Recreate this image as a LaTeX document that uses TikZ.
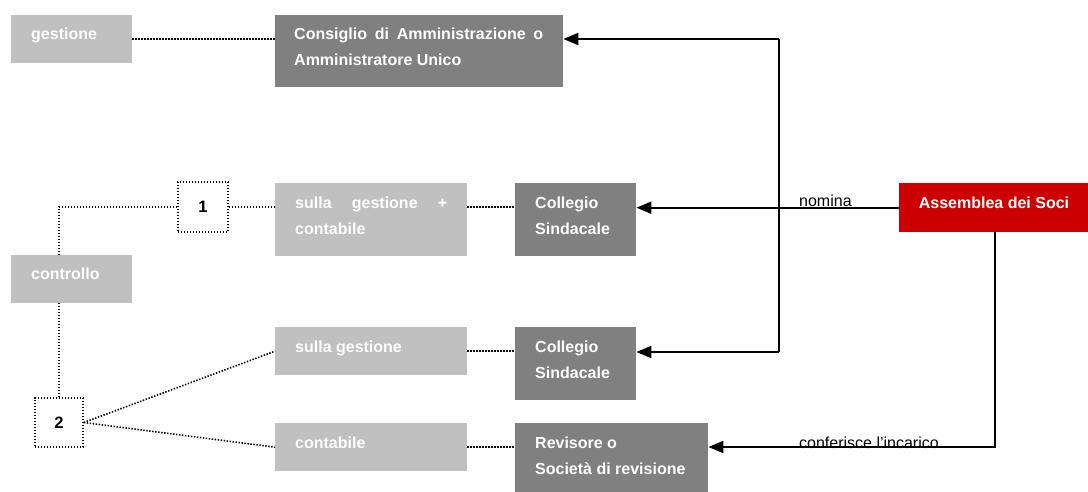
\documentclass[tikz,border=0pt]{standalone}
\usepackage{fontspec}
\setmainfont{Liberation Sans}
\usetikzlibrary{arrows.meta}
\definecolor{lg}{HTML}{C0C0C0}
\definecolor{dg}{HTML}{808080}
\definecolor{rd}{HTML}{CC0000}
\newcommand{\twoline}[2]{\vtop{\baselineskip=26pt\hbox{#1}\hbox{#2}}}
\begin{document}
\begin{tikzpicture}[x=1pt,y=-1pt,
 box/.style={rectangle, inner sep=0pt, anchor=north west, draw=none},
 lbox/.style={box, fill=lg},
 dbox/.style={box, fill=dg},
 rbox/.style={box, fill=rd},
 nbox/.style={rectangle, inner sep=0pt, anchor=center, draw=black, line width=1.6pt, dash pattern=on 1.4pt off 1.6pt, font=\fontsize{16.5}{19}\selectfont\bfseries},
 txt/.style={anchor=base west, inner sep=0pt, text=white, font=\fontsize{16}{19}\selectfont\bfseries},
 lab/.style={anchor=base west, inner sep=0pt, text=black, font=\fontsize{16}{19}\selectfont},
 dot/.style={line width=1.6pt, dash pattern=on 1.4pt off 1.6pt},
 arr/.style={line width=2pt, -{Triangle[length=15pt,width=12pt]}}]

\useasboundingbox (0,0) rectangle (1088,492);

% boxes
\node[lbox, minimum width=121pt, minimum height=48pt] (g) at (11,15) {};
\node[dbox, minimum width=288pt, minimum height=72pt] (cons) at (275,15) {};
\node[nbox, minimum width=50pt, minimum height=50pt] (b1) at (203,207) {1};
\node[lbox, minimum width=192pt, minimum height=73pt] (sgc) at (275,183) {};
\node[dbox, minimum width=121pt, minimum height=73pt] (c1) at (515,183) {};
\node[rbox, minimum width=189pt, minimum height=49pt] (a) at (899,183) {};
\node[lbox, minimum width=121pt, minimum height=48pt] (ctl) at (11,255) {};
\node[nbox, minimum width=48pt, minimum height=49pt] (b2) at (59,422.5) {2};
\node[lbox, minimum width=192pt, minimum height=48pt] (sg) at (275,327) {};
\node[dbox, minimum width=121pt, minimum height=73pt] (c2) at (515,327) {};
\node[lbox, minimum width=192pt, minimum height=48pt] (ct) at (275,423) {};
\node[dbox, minimum width=193pt, minimum height=69pt] (rev) at (515,423) {};

% texts
\node[txt] (tg) at (31,40) {gestione};
\node[txt] (tcons) at (294,40) {\twoline{\makebox[249pt][s]{Consiglio di Amministrazione o}}{Amministratore Unico}};
\node[txt] (tsgc) at (295,208) {\twoline{\makebox[152pt][s]{sulla gestione +}}{contabile}};
\node[txt] (tc1) at (535,208) {\twoline{Collegio}{Sindacale}};
\node[txt, anchor=base] (ta) at (994,208) {Assemblea dei Soci};
\node[txt] (tctl) at (31,279) {controllo};
\node[txt] (tsg) at (295,352) {sulla gestione};
\node[txt] (tc2) at (535,352) {\twoline{Collegio}{Sindacale}};
\node[txt] (tct) at (295,448) {contabile};
\node[txt] (trev) at (535,448) {\twoline{Revisore o}{Società di revisione}};

% dotted connectors
\draw[dot] (g.east) -- (g.east -| cons.west);
\draw[dot] (b2.north |- ctl.north) |- (b1.west);
\draw[dot] (b2.north) -- (b2.north |- ctl.south);
\draw[dot] (b1.east) -- (b1.east -| sgc.west);
\draw[dot] (sgc.east |- b1.east) -- (c1.west |- b1.east);
\draw[dot] (sg.east) -- (sg.east -| c2.west);
\draw[dot] (ct.east) -- (ct.east -| rev.west);
\draw[dot] (b2.east) -- (sg.west);
\draw[dot] (b2.east) -- (ct.west);

% solid connectors
\coordinate (vt) at (779,39);
\coordinate (vb) at (779,352);
\coordinate (kc) at (995,447);
\draw[line width=2pt] (vt) -- (vb);
\draw[arr] (vt) -- (vt -| cons.east);
\draw[arr] (vb) -- (vb -| c2.east);
\draw[arr] (a.west) -- (a.west -| c1.east);
\draw[arr] (a.south -| kc) -- (kc) -- (kc -| rev.east);

% labels
\node[lab] (lnom) at (799,207) {nomina};
\node[lab] (linc) at (799,448) {conferisce l'incarico};
\end{tikzpicture}
\end{document}
